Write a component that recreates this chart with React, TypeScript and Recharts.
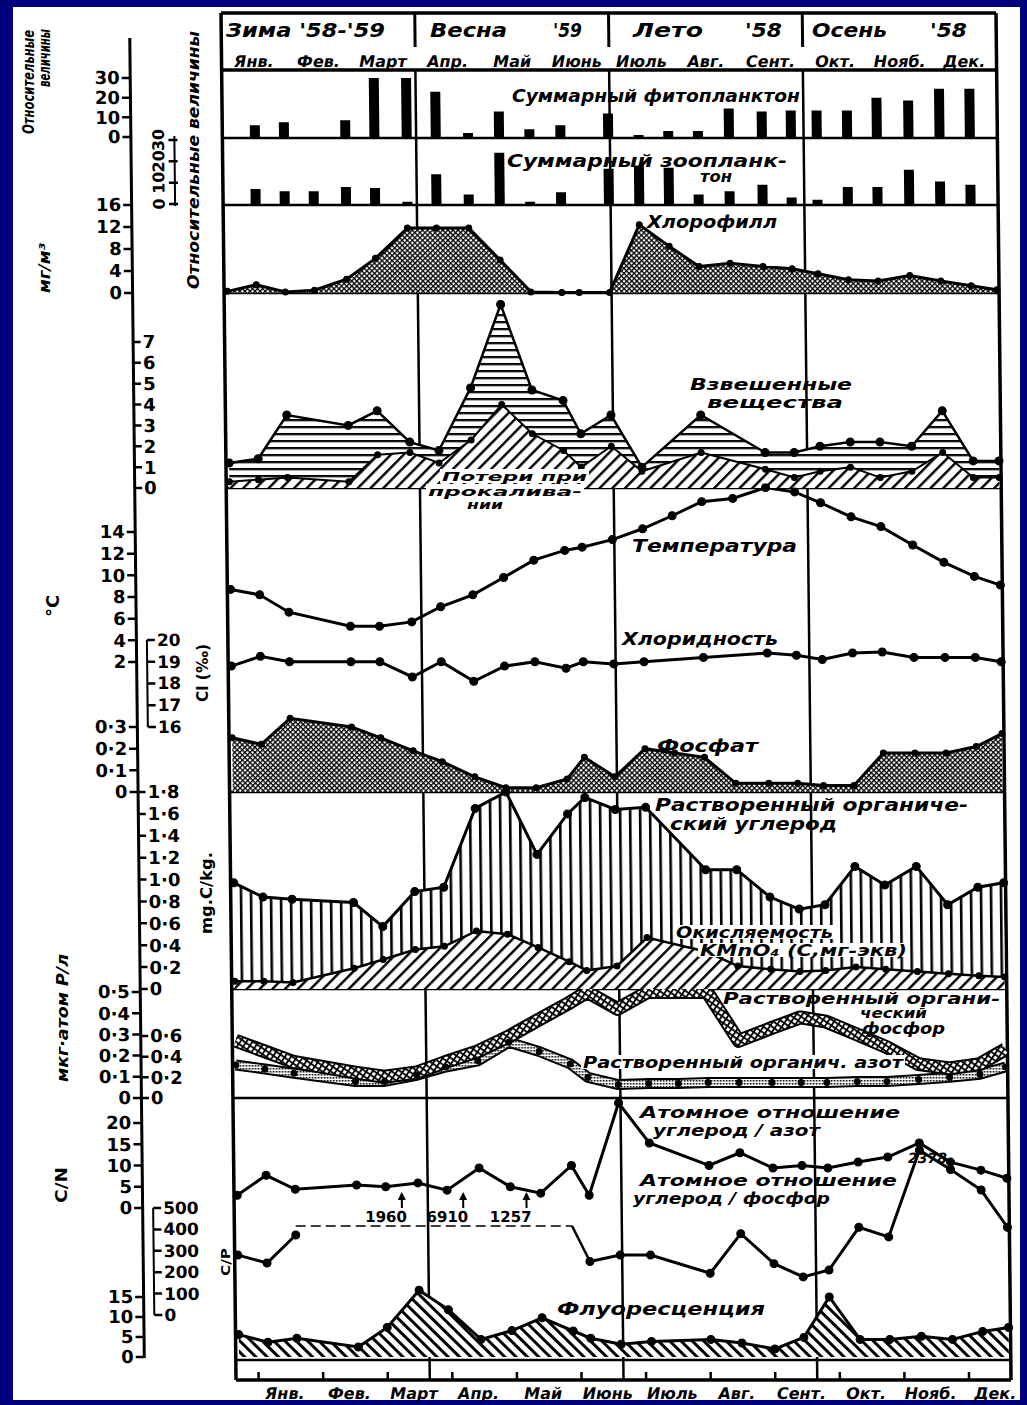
import React from 'react';
import { ComposedChart, Line, Area, Bar, XAxis, YAxis, ReferenceLine, LabelList } from 'recharts';

// sampling dates, in months from 1 January (winter '58-'59, spring '59, summer and autumn '58)
const sampleMonths = [0.05, 0.5, 0.95, 1.4, 1.9, 2.35, 2.85, 3.3, 3.8, 4.28, 4.75, 5.23, 5.5, 5.97, 6.44, 6.9, 7.36, 7.84, 8.35, 8.8, 9.2, 9.67, 10.13, 10.62, 11.1, 11.57, 11.97];
const monthNames = ['Янв.', 'Фев.', 'Март', 'Апр.', 'Май', 'Июнь', 'Июль', 'Авг.', 'Сент.', 'Окт.', 'Нояб.', 'Дек.'];
const seasonBounds = [3, 6, 9];

// relative values
const phyto = [null, 6, 7.5, null, 8.5, 30, 30, 23, 2, 13, 4, 6, null, 12, 1, 3, 3, 14.5, 13, 13.5, 13.5, 13.5, 20, 18.5, 24.5, 24.5, null];
const zoo = [null, 7, 6, 6, 8, 7.5, 1, 14, 4.5, 24, 1, 5.5, null, 16.5, 18, 17, 4.5, 6, 9, 3, 2, 8, 8, 16, 10.5, 9, null];
// mg/m3
const chl = [0.3, 1.5, 0.2, 0.5, 2.5, 6.3, 11.8, 11.8, 11.8, 6, 0.2, 0.1, 0.1, 0.1, 12.4, 8.5, 4.8, 5.4, 4.8, 4.4, 3.5, 2.4, 2.2, 3.2, 2.2, 1.3, 0.6];
const susp = [1.2, 1.4, 3.5, null, 3.0, 3.7, 2.2, 1.8, 4.8, 8.8, 4.7, 4.2, 2.6, 3.5, 1.0, null, 3.5, null, 1.7, 1.7, 2.0, 2.2, 2.2, 2.0, 3.7, 1.3, 1.3];
const loss = [0.3, 0.4, 0.5, null, 0.3, 1.6, 1.7, 1.2, 2.3, 4.0, 2.6, 1.8, 1.0, 2.0, 0.8, null, 1.7, null, 0.9, 0.5, 0.8, 1.0, 0.5, 0.8, 1.7, 0.5, 0.5];
// °C, Cl ‰, phosphate
const temp = [8.7, 8.2, 6.6, null, 5.3, 5.3, 5.7, 7.1, 8.2, 9.8, 11.4, 12.3, 12.6, 13.3, 14.3, 15.5, 16.8, 17.1, 18.1, 17.7, 16.7, 15.4, 14.5, 12.8, 11.2, 9.9, 9.1];
const cl = [18.8, 19.25, 19.0, null, 19.0, 19.0, 18.3, 19.0, 18.1, 18.8, 19.0, 18.7, 19.0, 18.9, 19.0, null, 19.2, null, 19.4, 19.3, 19.1, 19.4, 19.45, 19.2, 19.2, 19.2, 19.0];
const phos = [0.25, 0.22, 0.34, null, 0.3, 0.25, 0.19, 0.14, 0.07, 0.02, 0.02, 0.06, 0.16, 0.07, 0.2, 0.18, 0.16, 0.04, 0.04, 0.04, 0.03, 0.03, 0.18, 0.18, 0.18, 0.21, 0.27];
// mg C/kg
const doc = [0.97, 0.84, 0.82, null, 0.79, 0.57, 0.89, 0.93, 1.65, 1.8, 1.23, 1.6, 1.75, 1.64, 1.66, null, 1.09, 1.09, 0.84, 0.73, 0.77, 1.12, 0.95, 1.12, 0.77, 0.93, 0.97];
const oxid = [0.07, 0.07, 0.06, null, 0.19, 0.27, 0.36, 0.39, 0.53, 0.5, 0.38, 0.25, 0.17, 0.21, 0.47, null, 0.34, 0.21, 0.18, 0.16, 0.17, 0.2, 0.18, 0.16, 0.14, 0.12, 0.11];
// µg-atom/l
const dop = [0.27, 0.22, 0.17, null, 0.12, 0.1, 0.12, 0.17, 0.22, 0.29, 0.37, 0.45, 0.5, 0.42, 0.5, 0.5, 0.5, 0.27, 0.33, 0.38, 0.36, 0.3, 0.24, 0.16, 0.14, 0.16, 0.23];
const don = [0.32, 0.28, 0.24, null, 0.16, 0.16, 0.22, 0.3, 0.36, 0.54, 0.45, 0.33, 0.2, 0.13, 0.14, 0.14, 0.15, 0.15, 0.15, 0.15, 0.15, 0.16, 0.16, 0.18, 0.2, 0.23, 0.3];
// atomic ratios, fluorescence
const cn = [3.0, 7.7, 4.4, null, 5.4, 5.0, 5.9, 4.2, 9.4, 5.0, 3.5, 10, 3.0, 24.7, 15.3, null, 10, 13, 9.4, 10, 9.4, 10.8, 12, 15.3, 10.8, 8.9, 7];
const cp = [280, 243, 374, null, null, null, null, null, null, null, null, null, 250, 280, 280, null, 195, 380, 240, 178, 210, 410, 365, 2378, 680, 584, 410];
const cpOffScale = [null, null, null, null, null, 1960, null, 6910, null, 1257, null, null, null, null, null, null, null, null, null, null, null, null, null, null, null, null, null];
const fluor = [5.6, 3.7, 4.7, null, 2.5, 7.4, 16.7, 11.8, 4.4, 6.6, 9.8, 6.5, 4.7, 3.2, 3.9, null, 4.4, 3.5, 2.0, 4.9, 15, 4.4, 4.4, 5.2, 4.4, 6.4, 7.4];

const W = 1027;
const H = 1405;
const PLOT_L = 221;
const PLOT_R = 996;
const FRAME_TOP = 13;
const FRAME_BOTTOM = 1380;
const MAIN_AX = 129;
const ZOO_AX = 173;
const BRACKET_AX = 140;
const SKEW_DEG = 0.63;
const PAD = 14;
const CP_CLIP = 416;
const CP_TOP = 770;
const CP_GAP = [3, 11]; // samples where C/P ran off scale

const AX_FONT = '"DejaVu Sans", sans-serif';

const clipCp = (v: number | null) => (v == null ? null : Math.min(v, CP_TOP));

const rows = sampleMonths.map((m, i) => ({
  m,
  phyto: phyto[i],
  zoo: zoo[i],
  chl: chl[i],
  susp: susp[i],
  loss: loss[i],
  temp: temp[i],
  cl: cl[i],
  phos: phos[i],
  doc: doc[i],
  oxid: oxid[i],
  dop: dop[i],
  don: don[i],
  cn: cn[i],
  cpA: i < CP_GAP[0] ? clipCp(cp[i]) : null,
  cpB: i > CP_GAP[1] ? clipCp(cp[i]) : null,
  cpRaw: cp[i],
  cpDash: i >= CP_GAP[0] - 1 && i <= CP_GAP[1] ? CP_CLIP : null,
  cpOff: cpOffScale[i],
  cpDrop: i === CP_GAP[1] ? CP_CLIP : i === CP_GAP[1] + 1 ? cp[i] : null,
  fluor: fluor[i],
}));

// domain from two axis ticks (value, pixel) -> [value at bottom, value at top]
function dom(v1: number, y1: number, v2: number, y2: number, top: number, bottom: number): [number, number] {
  const k = (v2 - v1) / (y2 - y1);
  return [v1 + (bottom - y1) * k, v1 + (top - y1) * k];
}

const dec = (v: number) => (v === 0 ? '0' : v.toFixed(1).replace('.', '·'));
const intf = (v: number) => String(v);

function sideTick(axisX: number, side: 'left' | 'right', fmt: (v: number) => string, size = 18) {
  return (p: any) => {
    const y = Number(p.y);
    const dir = side === 'left' ? -1 : 1;
    return (
      <g>
        <line x1={axisX} x2={axisX + dir * 8} y1={y} y2={y} stroke="#000" strokeWidth={2.5} />
        <text
          x={axisX + dir * 10}
          y={y}
          textAnchor={side === 'left' ? 'end' : 'start'}
          dominantBaseline="central"
          fontFamily={AX_FONT}
          fontWeight={700}
          fontSize={size}
        >
          {fmt(p.payload.value)}
        </text>
      </g>
    );
  };
}

const zooTick = (p: any) => {
  const y = Number(p.y);
  return (
    <g>
      <line x1={ZOO_AX - 6} x2={ZOO_AX + 3} y1={y} y2={y} stroke="#000" strokeWidth={2.5} />
      <text
        transform={`translate(${ZOO_AX - 16},${y}) rotate(-90)`}
        textAnchor="middle"
        dominantBaseline="central"
        fontFamily={AX_FONT}
        fontWeight={700}
        fontSize={16}
      >
        {p.payload.value}
      </text>
    </g>
  );
};

const topMonthTick = (p: any) => {
  const x = Number(p.x);
  return (
    <text x={x} y={62} textAnchor="middle" dominantBaseline="central" fontFamily={AX_FONT} fontStyle="italic" fontWeight={700} fontSize={16}>
      {monthNames[Math.floor(p.payload.value)]}
    </text>
  );
};

const bottomMonthTick = (p: any) => {
  const x = Number(p.x);
  return (
    <g>
      <line x1={x} x2={x} y1={FRAME_BOTTOM} y2={FRAME_BOTTOM - 8} stroke="#000" strokeWidth={2.5} />
      <text x={x + 26} y={1394} textAnchor="middle" dominantBaseline="central" fontFamily={AX_FONT} fontStyle="italic" fontWeight={700} fontSize={16}>
        {monthNames[Math.floor(p.payload.value)]}
      </text>
    </g>
  );
};

const offLabel = (p: any) => {
  if (p.value == null) return null;
  const x = Number(p.x);
  const y = Number(p.y);
  return (
    <g>
      <text x={x} y={y - 9} textAnchor="middle" dominantBaseline="central" fontFamily={AX_FONT} fontWeight={700} fontSize={15}>
        {p.value}
      </text>
      <line x1={x + 16} x2={x + 16} y1={y - 18} y2={y - 32} stroke="#000" strokeWidth={2} />
      <path d={`M${x + 12},${y - 26} L${x + 16},${y - 34} L${x + 20},${y - 26} Z`} fill="#000" />
    </g>
  );
};

const cpTopLabel = (p: any) => {
  if (p.value == null || p.value <= CP_TOP) return null;
  return (
    <text x={Number(p.x) + 8} y={Number(p.y) + 8} textAnchor="middle" dominantBaseline="central" fontFamily={AX_FONT} fontStyle="italic" fontWeight={700} fontSize={14}>
      {p.value}
    </text>
  );
};

const bigDot = { r: 4, fill: '#000', stroke: '#000', strokeWidth: 1, clipDot: false };
const smallDot = { r: 3, fill: '#000', stroke: '#000', strokeWidth: 1, clipDot: false };

function Patterns() {
  return (
    <svg width={0} height={0} style={{ position: 'absolute' }}>
      <defs>
        <pattern id="hz" width={8} height={7} patternUnits="userSpaceOnUse">
          <rect width={8} height={7} fill="#fff" />
          <rect width={8} height={2.2} fill="#000" />
        </pattern>
        <pattern id="dg" width={9} height={9} patternUnits="userSpaceOnUse" patternTransform="rotate(45)">
          <rect width={9} height={9} fill="#fff" />
          <rect width={2.4} height={9} fill="#000" />
        </pattern>
        <pattern id="bs" width={8} height={8} patternUnits="userSpaceOnUse" patternTransform="rotate(-45)">
          <rect width={8} height={8} fill="#fff" />
          <rect width={3} height={8} fill="#000" />
        </pattern>
        <pattern id="vt" width={10} height={10} patternUnits="userSpaceOnUse">
          <rect width={10} height={10} fill="#fff" />
          <rect width={2.6} height={10} fill="#000" />
        </pattern>
        <pattern id="xh" width={3.6} height={3.6} patternUnits="userSpaceOnUse" patternTransform="rotate(45)">
          <rect width={3.6} height={3.6} fill="#fff" />
          <rect width={1.3} height={3.6} fill="#000" />
          <rect width={3.6} height={1.3} fill="#000" />
        </pattern>
        <pattern id="grid" width={5} height={5} patternUnits="userSpaceOnUse" patternTransform="rotate(35)">
          <rect width={5} height={5} fill="#fff" />
          <rect width={1.8} height={5} fill="#000" />
          <rect width={5} height={1.8} fill="#000" />
        </pattern>
        <pattern id="dots" width={3} height={3} patternUnits="userSpaceOnUse">
          <rect width={3} height={3} fill="#fff" />
          <rect width={1.6} height={1.6} fill="#000" />
        </pattern>
      </defs>
    </svg>
  );
}

function Panel({ top, bottom, children }: { top: number; bottom: number; children: React.ReactNode }) {
  const h = bottom - top + 2 * PAD;
  return (
    <div style={{ position: 'absolute', left: 0, top: top - PAD, width: W, height: h }}>
      <ComposedChart width={W} height={h} data={rows} margin={{ top: PAD, right: W - PLOT_R, bottom: PAD, left: PLOT_L }}>
        <XAxis dataKey="m" type="number" domain={[0, 12]} allowDataOverflow hide />
        {children}
      </ComposedChart>
    </div>
  );
}

const hLines = [138, 205, 293, 488, 792, 989, 1098, 1360];

function FrameChart() {
  const frameRows = [
    { m: 0, y: FRAME_TOP },
    { m: 12, y: FRAME_TOP },
  ];
  const bottomTicks = monthNames.map((_, k) => k + 0.35);
  const topTicks = monthNames.map((_, k) => k + 0.5);
  return (
    <div style={{ position: 'absolute', left: 0, top: 0, width: W, height: H }}>
      <ComposedChart width={W} height={H} data={frameRows} margin={{ top: FRAME_TOP - 1, right: W - PLOT_R, bottom: H - FRAME_BOTTOM - 1, left: PLOT_L }}>
        <XAxis xAxisId="b" dataKey="m" type="number" domain={[0, 12]} allowDataOverflow height={1} ticks={bottomTicks} interval={0} axisLine={false} tickLine={false} tick={bottomMonthTick} />
        <XAxis xAxisId="t" dataKey="m" type="number" orientation="top" domain={[0, 12]} allowDataOverflow height={1} ticks={topTicks} interval={0} axisLine={false} tickLine={false} tick={topMonthTick} />
        <YAxis type="number" domain={[FRAME_TOP, FRAME_BOTTOM]} reversed allowDataOverflow hide />
        <Line xAxisId="b" dataKey="y" stroke="none" dot={false} isAnimationActive={false} />
        <Line xAxisId="t" dataKey="y" stroke="none" dot={false} isAnimationActive={false} />
        {seasonBounds.map((s) => (
          <ReferenceLine key={`h${s}`} xAxisId="b" segment={[{ x: s, y: FRAME_TOP }, { x: s, y: 47 }]} stroke="#000" strokeWidth={3} />
        ))}
        {seasonBounds.map((s) => (
          <ReferenceLine key={`v${s}`} xAxisId="b" segment={[{ x: s, y: 70 }, { x: s, y: FRAME_BOTTOM }]} stroke="#000" strokeWidth={2.5} />
        ))}
        {hLines.map((y) => (
          <ReferenceLine key={`y${y}`} xAxisId="b" y={y} stroke="#000" strokeWidth={2.5} />
        ))}
        <ReferenceLine xAxisId="b" y={70} stroke="#000" strokeWidth={3.5} />
        <ReferenceLine xAxisId="b" y={FRAME_TOP} stroke="#000" strokeWidth={3.5} />
        <ReferenceLine xAxisId="b" y={FRAME_BOTTOM} stroke="#000" strokeWidth={3.5} />
        <ReferenceLine xAxisId="b" x={0} stroke="#000" strokeWidth={3.5} />
        <ReferenceLine xAxisId="b" x={12} stroke="#000" strokeWidth={3.5} />
      </ComposedChart>
    </div>
  );
}

function AxisLines() {
  const v = (x: number, y1: number, y2: number, w = 3) => (
    <div style={{ position: 'absolute', left: x - w / 2, top: y1, width: w, height: y2 - y1, background: '#000' }} />
  );
  return (
    <>
      {v(MAIN_AX, 38, 1358)}
      {v(ZOO_AX, 136, 206, 2.5)}
      {v(BRACKET_AX, 640, 727, 2.5)}
      {v(BRACKET_AX, 1208, 1315, 2.5)}
    </>
  );
}

type Note = { t: string; x1: number; x2: number; y: number; s?: number; bg?: boolean };

const notes: Note[] = [
  { t: "Зима '58-'59", x1: 226, x2: 385, y: 30, s: 20 },
  { t: 'Весна', x1: 430, x2: 507, y: 30, s: 20 },
  { t: "'59", x1: 553, x2: 582, y: 30, s: 20 },
  { t: 'Лето', x1: 633, x2: 703, y: 30, s: 20 },
  { t: "'58", x1: 745, x2: 782, y: 30, s: 20 },
  { t: 'Осень', x1: 812, x2: 887, y: 30, s: 20 },
  { t: "'58", x1: 930, x2: 967, y: 30, s: 20 },
  { t: 'Суммарный фитопланктон', x1: 512, x2: 800, y: 95 },
  { t: 'Суммарный зоопланк-', x1: 507, x2: 787, y: 160 },
  { t: 'тон', x1: 700, x2: 732, y: 177, s: 15 },
  { t: 'Хлорофилл', x1: 647, x2: 777, y: 221 },
  { t: 'Взвешенные', x1: 690, x2: 852, y: 384, s: 16 },
  { t: 'вещества', x1: 707, x2: 843, y: 402, s: 16 },
  { t: 'Потери при', x1: 442, x2: 587, y: 476, s: 13, bg: true },
  { t: 'прокалива-', x1: 428, x2: 582, y: 491, s: 13, bg: true },
  { t: 'нии', x1: 467, x2: 503, y: 505, s: 12, bg: true },
  { t: 'Температура', x1: 632, x2: 797, y: 545 },
  { t: 'Хлоридность', x1: 622, x2: 778, y: 638 },
  { t: 'Фосфат', x1: 657, x2: 758, y: 745 },
  { t: 'Растворенный органиче-', x1: 655, x2: 968, y: 804 },
  { t: 'ский углерод', x1: 670, x2: 837, y: 823 },
  { t: 'Окисляемость', x1: 676, x2: 833, y: 932, s: 16, bg: true },
  { t: 'KMnO₄ (C,мг-экв)', x1: 700, x2: 907, y: 950, s: 16, bg: true },
  { t: 'Растворенный органи-', x1: 723, x2: 1000, y: 998, s: 16 },
  { t: 'ческий', x1: 860, x2: 927, y: 1013, s: 14 },
  { t: 'фосфор', x1: 862, x2: 945, y: 1029, s: 15 },
  { t: 'Растворенный органич. азот', x1: 583, x2: 903, y: 1062, s: 16, bg: true },
  { t: 'Атомное отношение', x1: 640, x2: 900, y: 1112, s: 16 },
  { t: 'углерод / азот', x1: 653, x2: 820, y: 1130, s: 16 },
  { t: 'Атомное отношение', x1: 640, x2: 897, y: 1181, s: 15 },
  { t: 'углерод / фосфор', x1: 633, x2: 830, y: 1199, s: 15 },
  { t: 'Флуоресценция', x1: 557, x2: 765, y: 1308 },
];

type Title = { t: string; cx: number; cy: number; len: number; s?: number; upright?: boolean };

const titles: Title[] = [
  { t: 'Относительные', cx: 29, cy: 82, len: 104 },
  { t: 'величины', cx: 45, cy: 58, len: 58 },
  { t: 'мг/м³', cx: 45, cy: 268, len: 50 },
  { t: '°C', cx: 52, cy: 606, len: 22, s: 18, upright: true },
  { t: 'мкг·атом P/л', cx: 63, cy: 1018, len: 128 },
  { t: 'C/N', cx: 62, cy: 1185, len: 36, upright: true },
  { t: 'Относительные величины', cx: 194, cy: 160, len: 258 },
  { t: 'Cl (‰)', cx: 203, cy: 673, len: 58, upright: true },
  { t: 'mg.C/kg.', cx: 207, cy: 893, len: 82, upright: true },
  { t: 'C/P', cx: 225, cy: 1262, len: 28, s: 13, upright: true },
];

function Notes() {
  return (
    <svg width={W} height={H} style={{ position: 'absolute', left: 0, top: 0 }}>
      {notes.map((n, i) => (
        <g key={i}>
          {n.bg && <rect x={n.x1 - 2} y={n.y - 7} width={n.x2 - n.x1 + 4} height={14} fill="#fff" />}
          <text
            x={n.x1}
            y={n.y}
            textLength={n.x2 - n.x1}
            lengthAdjust="spacingAndGlyphs"
            dominantBaseline="central"
            fontFamily={AX_FONT}
            fontStyle="italic"
            fontWeight={700}
            fontSize={n.s ?? 18}
          >
            {n.t}
          </text>
        </g>
      ))}
      {titles.map((t, i) => (
        <text
          key={`t${i}`}
          transform={`translate(${t.cx},${t.cy}) rotate(-90)`}
          textAnchor="middle"
          dominantBaseline="central"
          textLength={t.len}
          lengthAdjust="spacingAndGlyphs"
          fontFamily={AX_FONT}
          fontStyle={t.upright ? 'normal' : 'italic'}
          fontWeight={700}
          fontSize={t.s ?? 15}
        >
          {t.t}
        </text>
      ))}
    </svg>
  );
}

export default function App() {
  return (
    <div style={{ position: 'absolute', left: 0, top: 0, width: W, height: H, background: '#00007c', overflow: 'hidden' }}>
      <div style={{ position: 'absolute', left: 13, top: 7, width: 1007, height: 1393, background: '#fff' }} />
      <Patterns />
      <div style={{ position: 'absolute', left: 0, top: 0, width: W, height: H, transform: `skewX(${SKEW_DEG}deg)`, transformOrigin: `0 ${FRAME_TOP}px` }}>
        <AxisLines />
        <FrameChart />

        <Panel top={70} bottom={138}>
          <YAxis yAxisId="p" type="number" domain={dom(0, 137, 30, 78, 70, 138)} allowDataOverflow ticks={[0, 10, 20, 30]} interval={0} mirror axisLine={false} tickLine={false} tick={sideTick(MAIN_AX, 'left', intf)} />
          <Bar yAxisId="p" dataKey="phyto" fill="#000" barSize={10} isAnimationActive={false} />
        </Panel>

        <Panel top={138} bottom={205}>
          <YAxis yAxisId="z" type="number" domain={dom(0, 204, 30, 140, 138, 205)} allowDataOverflow ticks={[0, 10, 20, 30]} interval={0} mirror axisLine={false} tickLine={false} tick={zooTick} />
          <Bar yAxisId="z" dataKey="zoo" fill="#000" barSize={10} isAnimationActive={false} />
        </Panel>

        <Panel top={205} bottom={293}>
          <YAxis yAxisId="c" type="number" domain={dom(0, 293, 16, 205, 205, 293)} allowDataOverflow ticks={[0, 4, 8, 12, 16]} interval={0} mirror axisLine={false} tickLine={false} tick={sideTick(MAIN_AX, 'left', intf)} />
          <Area yAxisId="c" dataKey="chl" type="linear" stroke="#000" strokeWidth={3} fill="url(#xh)" fillOpacity={1} connectNulls dot={smallDot} isAnimationActive={false} />
        </Panel>

        <Panel top={293} bottom={488}>
          <YAxis yAxisId="s" type="number" domain={dom(0, 488, 7, 342, 293, 488)} allowDataOverflow ticks={[0, 1, 2, 3, 4, 5, 6, 7]} interval={0} mirror axisLine={false} tickLine={false} tick={sideTick(MAIN_AX, 'right', intf)} />
          <Area yAxisId="s" dataKey="susp" type="linear" stroke="#000" strokeWidth={2.5} fill="url(#hz)" fillOpacity={1} connectNulls dot={bigDot} isAnimationActive={false} />
          <Area yAxisId="s" dataKey="loss" type="linear" stroke="#000" strokeWidth={2} fill="url(#dg)" fillOpacity={1} connectNulls dot={smallDot} isAnimationActive={false} />
        </Panel>

        <Panel top={488} bottom={792}>
          <YAxis yAxisId="t" type="number" domain={dom(14, 532, 2, 662, 488, 792)} allowDataOverflow ticks={[2, 4, 6, 8, 10, 12, 14]} interval={0} mirror axisLine={false} tickLine={false} tick={sideTick(MAIN_AX, 'left', intf)} />
          <YAxis yAxisId="cl" type="number" domain={dom(20, 640, 16, 727, 488, 792)} allowDataOverflow ticks={[16, 17, 18, 19, 20]} interval={0} mirror axisLine={false} tickLine={false} tick={sideTick(BRACKET_AX, 'right', intf, 17)} />
          <YAxis yAxisId="ph" type="number" domain={dom(0.3, 727, 0, 792, 488, 792)} allowDataOverflow ticks={[0, 0.1, 0.2, 0.3]} interval={0} mirror axisLine={false} tickLine={false} tick={sideTick(MAIN_AX, 'left', dec)} />
          <Area yAxisId="ph" dataKey="phos" type="linear" stroke="#000" strokeWidth={3} fill="url(#xh)" fillOpacity={1} connectNulls dot={smallDot} isAnimationActive={false} />
          <Line yAxisId="cl" dataKey="cl" type="linear" stroke="#000" strokeWidth={3} connectNulls dot={bigDot} isAnimationActive={false} />
          <Line yAxisId="t" dataKey="temp" type="linear" stroke="#000" strokeWidth={3} connectNulls dot={bigDot} isAnimationActive={false} />
        </Panel>

        <Panel top={792} bottom={989}>
          <YAxis yAxisId="d" type="number" domain={dom(1.8, 792, 0, 989, 792, 989)} allowDataOverflow ticks={[0, 0.2, 0.4, 0.6, 0.8, 1.0, 1.2, 1.4, 1.6, 1.8]} interval={0} mirror axisLine={false} tickLine={false} tick={sideTick(MAIN_AX, 'right', dec)} />
          <Area yAxisId="d" dataKey="doc" type="linear" stroke="#000" strokeWidth={3} fill="url(#vt)" fillOpacity={1} connectNulls dot={bigDot} isAnimationActive={false} />
          <Area yAxisId="d" dataKey="oxid" type="linear" stroke="#000" strokeWidth={2.5} fill="url(#dg)" fillOpacity={1} connectNulls dot={smallDot} isAnimationActive={false} />
        </Panel>

        <Panel top={989} bottom={1098}>
          <YAxis yAxisId="op" type="number" domain={dom(0.5, 992, 0, 1098, 989, 1098)} allowDataOverflow ticks={[0, 0.1, 0.2, 0.3, 0.4, 0.5]} interval={0} mirror axisLine={false} tickLine={false} tick={sideTick(MAIN_AX, 'left', dec)} />
          <YAxis yAxisId="on" type="number" domain={dom(0.6, 1036, 0, 1098, 989, 1098)} allowDataOverflow ticks={[0, 0.2, 0.4, 0.6]} interval={0} mirror axisLine={false} tickLine={false} tick={sideTick(MAIN_AX, 'right', dec)} />
          <Line yAxisId="on" dataKey="don" type="linear" stroke="#000" strokeWidth={11} strokeLinejoin="round" connectNulls dot={false} isAnimationActive={false} />
          <Line yAxisId="on" dataKey="don" type="linear" stroke="url(#dots)" strokeWidth={7} strokeLinejoin="round" connectNulls dot={smallDot} isAnimationActive={false} />
          <Line yAxisId="op" dataKey="dop" type="linear" stroke="#000" strokeWidth={14} strokeLinejoin="round" connectNulls dot={false} isAnimationActive={false} />
          <Line yAxisId="op" dataKey="dop" type="linear" stroke="url(#grid)" strokeWidth={10} strokeLinejoin="round" connectNulls dot={false} isAnimationActive={false} />
        </Panel>

        <Panel top={1098} bottom={1360}>
          <YAxis yAxisId="cn" type="number" domain={dom(20, 1123, 0, 1208, 1098, 1360)} allowDataOverflow ticks={[0, 5, 10, 15, 20]} interval={0} mirror axisLine={false} tickLine={false} tick={sideTick(MAIN_AX, 'left', intf)} />
          <YAxis yAxisId="cp" type="number" domain={dom(500, 1208, 0, 1315, 1098, 1360)} allowDataOverflow ticks={[0, 100, 200, 300, 400, 500]} interval={0} mirror axisLine={false} tickLine={false} tick={sideTick(BRACKET_AX, 'right', intf, 17)} />
          <YAxis yAxisId="fl" type="number" domain={dom(15, 1297, 0, 1357, 1098, 1360)} allowDataOverflow ticks={[0, 5, 10, 15]} interval={0} mirror axisLine={false} tickLine={false} tick={sideTick(MAIN_AX, 'left', intf)} />
          <Area yAxisId="fl" dataKey="fluor" type="linear" stroke="#000" strokeWidth={3} fill="url(#bs)" fillOpacity={1} connectNulls dot={bigDot} isAnimationActive={false} />
          <Line yAxisId="cp" dataKey="cpDash" type="linear" stroke="#000" strokeWidth={1.5} strokeDasharray="10 5" dot={false} isAnimationActive={false}>
            <LabelList dataKey="cpOff" content={offLabel} />
          </Line>
          <Line yAxisId="cp" dataKey="cpDrop" type="linear" stroke="#000" strokeWidth={2.5} connectNulls dot={false} isAnimationActive={false} />
          <Line yAxisId="cp" dataKey="cpA" type="linear" stroke="#000" strokeWidth={3} connectNulls dot={bigDot} isAnimationActive={false} />
          <Line yAxisId="cp" dataKey="cpB" type="linear" stroke="#000" strokeWidth={3} connectNulls dot={bigDot} isAnimationActive={false}>
            <LabelList dataKey="cpRaw" content={cpTopLabel} />
          </Line>
          <Line yAxisId="cn" dataKey="cn" type="linear" stroke="#000" strokeWidth={3} connectNulls dot={bigDot} isAnimationActive={false} />
        </Panel>
      </div>
      <Notes />
    </div>
  );
}
